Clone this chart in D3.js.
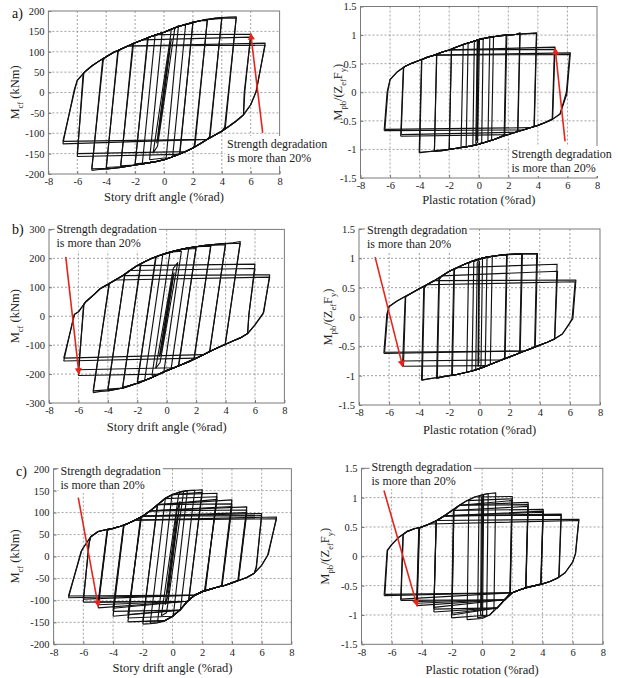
<!DOCTYPE html>
<html><head><meta charset="utf-8">
<script src="https://cdn.jsdelivr.net/npm/d3@7"></script>
<style>body{margin:0;background:#fff} svg{display:block} svg text{font-family:"Liberation Serif","Times New Roman",serif;}</style>
</head><body>
<svg id="c" width="618" height="678"></svg>
<script>
// ---------- tick values ----------
const xTicks = [-8,-6,-4,-2,0,2,4,6,8];
const yTicksKNm200 = [-200,-150,-100,-50,0,50,100,150,200];
const yTicksKNm300 = [-300,-200,-100,0,100,200,300];
const yTicksNorm = [-1.5,-1,-0.5,0,0.5,1,1.5];
const annotationLines = ["Strength degradation","is more than 20%"];

// ---------- skeleton curves (upper = reloading toward +, lower = unloading toward -) ----------
const U_aL = [[-6,30],[-5.5,50],[-5,65],[-4.5,77],[-4,88],[-3.5,98],[-3,106],[-2.5,114],[-2,122],[-1.5,129],[-1,136],[-0.5,142],[0,148],[0.5,155],[1,162],[1.5,167],[2,172],[2.5,176],[3,179],[3.5,182],[4,184],[4.5,185],[5,186]];
const L_aL = [[-5,-190],[-4.5,-189],[-4,-188],[-3.5,-186],[-3,-184],[-2.5,-181],[-2,-178],[-1.5,-175],[-1,-172],[-0.5,-169],[0,-165],[0.5,-159],[1,-152],[1.5,-145],[2,-136],[2.5,-126],[3,-115],[3.5,-105],[4,-95],[4.5,-83],[5,-70],[5.5,-55],[6,-30]];
const U_aR = [[-6,0.22],[-5.5,0.36],[-5,0.45],[-4.5,0.51],[-4,0.56],[-3.5,0.61],[-3,0.65],[-2.5,0.7],[-2,0.74],[-1.5,0.79],[-1,0.84],[-0.5,0.88],[0,0.92],[0.5,0.95],[1,0.97],[1.5,0.99],[2,1.0],[2.5,1.01],[3,1.02],[3.5,1.03],[4,1.03]];
const L_aR = [[-4.5,-1.06],[-4,-1.05],[-3.5,-1.04],[-3,-1.03],[-2.5,-1.02],[-2,-1.0],[-1.5,-0.98],[-1,-0.96],[-0.5,-0.94],[0,-0.91],[0.5,-0.87],[1,-0.83],[1.5,-0.78],[2,-0.74],[2.5,-0.7],[3,-0.66],[3.5,-0.62],[4,-0.58],[4.5,-0.53],[5,-0.47],[5.5,-0.38],[6,-0.1]];
const U_bL = [[-6,15],[-5.5,50],[-5,72],[-4.5,96],[-4,110],[-3.5,125],[-3,140],[-2.5,158],[-2,175],[-1.5,188],[-1,200],[-0.5,210],[0,218],[0.5,225],[1,231],[1.5,236],[2,240],[2.5,244],[3,247],[3.5,249],[4,251],[4.5,254],[5,257]];
const L_bL = [[-5,-262],[-4.5,-260],[-4,-258],[-3.5,-253],[-3,-248],[-2.5,-240],[-2,-232],[-1.5,-222],[-1,-212],[-0.5,-200],[0,-188],[0.5,-178],[1,-168],[1.5,-157],[2,-145],[2.5,-133],[3,-120],[3.5,-108],[4,-97],[4.5,-86],[5,-75],[5.5,-60],[6,-30]];
const U_bR = [[-6,0.18],[-5.5,0.27],[-5,0.34],[-4.5,0.41],[-4,0.48],[-3.5,0.55],[-3,0.62],[-2.5,0.7],[-2,0.78],[-1.5,0.84],[-1,0.9],[-0.5,0.95],[0,0.99],[0.5,1.02],[1,1.04],[1.5,1.06],[2,1.07],[2.5,1.075],[3,1.08],[3.5,1.08],[4,1.08]];
const L_bR = [[-4,-1.07],[-3.5,-1.06],[-3,-1.04],[-2.5,-1.02],[-2,-1.0],[-1.5,-0.98],[-1,-0.95],[-0.5,-0.92],[0,-0.88],[0.5,-0.83],[1,-0.78],[1.5,-0.73],[2,-0.68],[2.5,-0.63],[3,-0.58],[3.5,-0.53],[4,-0.48],[4.5,-0.43],[5,-0.37],[5.5,-0.29],[6,-0.1]];
const U_cL = [[-6,20],[-5.5,45],[-5,57],[-4.5,61],[-4,64],[-3.5,69],[-3,75],[-2.5,83],[-2,92],[-1.5,104],[-1,118],[-0.5,132],[0,141],[0.5,147],[1,150],[1.5,151],[2,152]];
const L_cL = [[-2,-154],[-1.5,-153],[-1,-151],[-0.5,-146],[0,-136],[0.5,-122],[1,-102],[1.5,-88],[2,-80],[2.5,-75],[3,-70],[3.5,-66],[4,-60],[4.5,-54],[5,-48],[5.5,-38],[6,-20]];
const U_cR = [[-6,0.2],[-5.5,0.33],[-5,0.42],[-4.5,0.47],[-4,0.5],[-3.5,0.55],[-3,0.61],[-2.5,0.69],[-2,0.78],[-1.5,0.87],[-1,0.95],[-0.5,1.01],[0,1.05],[0.5,1.07],[1,1.08]];
const L_cR = [[-1.5,-1.08],[-1,-1.08],[-0.5,-1.08],[0,-1.06],[0.5,-1.0],[1,-0.88],[1.5,-0.74],[2,-0.62],[2.5,-0.57],[3,-0.53],[3.5,-0.5],[4,-0.47],[4.5,-0.43],[5,-0.37],[5.5,-0.28],[6,-0.1]];

// ---------- cycles: [negX, negY, upKneeX, upKneeY, posX, posY, downKneeX, downKneeY] ----------
const cyc_aL = [
 [-0.375,-95,0.25,75,0.375,100,-0.25,-72],[-0.5,-125,0.35,102,0.5,130,-0.35,-100],[-0.75,-148,0.45,138,0.75,158,-0.45,-132],
 [-1,-165,-0.13,147,1,164,0.15,-160],[-1.5,-175,-0.62,140,1.5,168,0.6,-157],
 [-2,-178,-1.13,134,2,173,1.1,-151],[-2,-175,-1.1,133,2,170,1.08,-150],
 [-3,-183,-2.16,120,3,180,2.14,-132],[-3,-180,-2.12,118,3,177,2.1,-130],
 [-4,-188,-3.2,101,4,184,3.18,-110],[-4,-184,-3.17,100,4,182,3.15,-108],
 [-5,-191,-4.24,82,5,186,4.24,-88],[-5,-187,-4.2,80,5,183,4.2,-85],
 [-6,-157,-5.6,45,6,143,5.6,5],[-6,-150,-5.55,48,6,136,5.55,0],
 [-7,-126,-6.2,8,7,121,6.4,4],[-7,-120,-6.15,10,7,116,6.35,0]
];
const cyc_aR = [
 [-0.15,-0.85,-0.08,0.86,-0.02,0.91,-0.1,-0.82],[-0.2,-0.9,-0.1,0.88,0.05,0.93,-0.08,-0.88],
 [-0.4,-0.93,-0.3,0.88,0.3,0.95,0.2,-0.88],[-0.85,-0.95,-0.72,0.86,0.75,0.97,0.62,-0.86],
 [-1.2,-0.97,-1.05,0.83,1.0,0.98,0.87,-0.83],
 [-2.0,-1.0,-1.85,0.76,1.9,1.01,1.76,-0.75],[-2.0,-0.99,-1.84,0.75,1.85,1.0,1.72,-0.74],
 [-3.0,-1.03,-2.85,0.67,2.8,1.04,2.65,-0.68],[-3.0,-1.02,-2.84,0.66,2.78,1.03,2.63,-0.67],
 [-4.03,-1.06,-3.87,0.57,3.92,1.04,3.76,-0.6],[-4.0,-1.05,-3.85,0.57,3.9,1.03,3.74,-0.59],
 [-5.28,-0.77,-5.1,0.43,5.16,0.79,5.0,-0.47],[-5.25,-0.74,-5.08,0.42,5.12,0.75,4.97,-0.47],
 [-6.4,-0.67,-6.2,0.0,6.2,0.69,5.96,-0.03],[-6.35,-0.65,-6.15,0.02,6.15,0.66,5.93,0.0]
];
const cyc_bL = [
 [-0.375,-110,0.25,95,0.375,115,-0.25,-90],[-0.5,-140,0.35,125,0.5,150,-0.35,-120],[-0.75,-180,0.45,165,0.75,185,-0.45,-160],
 [-1,-205,0.22,221,1,225,-0.2,-195],[-1.5,-222,-0.26,214,1.5,236,0.3,-182],
 [-2,-234,-0.75,205,2,240,0.82,-172],[-2,-228,-0.72,203,2,234,0.8,-170],
 [-3,-250,-1.77,181,3,247,1.87,-148],[-3,-245,-1.75,180,3,242,1.85,-147],
 [-4,-258,-2.85,145,4,252,2.93,-122],[-4,-252,-2.85,143,4,247,2.92,-120],
 [-5,-264,-3.92,113,5,258,3.98,-98],[-5,-258,-3.9,112,5,252,3.97,-97],
 [-6,-205,-5.65,40,6,180,5.6,10],[-6,-185,-5.62,42,6,165,5.58,5],
 [-7,-155,-6.3,5,7,143,6.6,14],[-7,-145,-6.25,8,7,135,6.55,8]
];
const cyc_bR = [
 [-0.1,-0.85,-0.05,0.9,0.0,0.95,-0.06,-0.8],[-0.25,-0.9,-0.15,0.92,0.2,1.0,0.1,-0.84],
 [-0.5,-0.92,-0.38,0.94,0.5,1.02,0.38,-0.84],[-0.85,-0.94,-0.72,0.91,0.85,1.04,0.72,-0.8],
 [-1.85,-1.0,-1.7,0.82,1.84,1.07,1.7,-0.7],[-1.8,-0.99,-1.66,0.81,1.8,1.06,1.66,-0.7],
 [-2.85,-1.05,-2.7,0.65,2.85,1.08,2.7,-0.61],[-2.8,-1.04,-2.66,0.64,2.8,1.07,2.66,-0.6],
 [-3.85,-1.08,-3.7,0.5,3.85,1.08,3.7,-0.51],[-3.8,-1.07,-3.66,0.49,3.8,1.08,3.66,-0.5],
 [-5.05,-0.84,-4.9,0.35,5.15,0.9,4.98,-0.38],[-5.1,-0.75,-4.93,0.34,5.18,0.78,5.0,-0.37],
 [-6.35,-0.62,-6.15,0.05,6.4,0.63,6.2,-0.03],[-6.3,-0.6,-6.1,0.06,6.35,0.6,6.15,-0.02]
];
const cyc_cL = [
 [-0.375,-85,0.25,75,0.375,95,-0.25,-65],[-0.5,-110,0.3,105,0.5,125,-0.3,-90],[-0.75,-135,0.4,138,0.75,148,-0.4,-128],
 [-1,-148,-0.04,140,1,150,0.05,-136],[-1.5,-152,-0.48,133,1.5,151,0.53,-121],
 [-2,-154,-1.03,117,2,152,1.1,-100],[-2,-148,-1.0,118,2,146,1.08,-100],
 [-3,-149,-2.15,89,3,144,2.21,-79],[-3,-140,-2.12,88,3,136,2.18,-78],[-3,-132,-2.1,88,3,130,2.16,-77],
 [-4,-136,-3.26,72,4,129,3.3,-67],[-4,-125,-3.28,70,4,120,3.32,-66],[-4,-118,-3.3,70,4,114,3.34,-66],
 [-5,-117,-4.36,62,5,113,4.4,-55],[-5,-110,-4.38,60,5,106,4.42,-54],[-5,-104,-4.4,60,5,100,4.44,-54],
 [-6,-104,-5.62,30,6,98,5.65,-25],[-6,-97,-5.6,32,6,93,5.63,-24],
 [-7,-94,-6.15,12,7,90,6.45,5],[-7,-90,-6.1,14,7,86,6.4,3]
];
const cyc_cR = [
 [-0.05,-0.9,0.0,0.95,0.05,1.0,-0.02,-0.9],[-0.1,-1.0,-0.05,1.0,0.1,1.05,0.03,-1.0],
 [-0.3,-1.05,-0.2,1.02,0.4,1.07,0.3,-1.02],[-1.0,-1.08,-0.88,0.96,0.9,1.08,0.78,-0.92],
 [-2.03,-1.05,-1.9,0.8,2.0,1.02,1.87,-0.64],[-2.0,-1.0,-1.88,0.79,1.98,0.98,1.85,-0.63],[-2.0,-0.97,-1.87,0.79,1.97,0.95,1.84,-0.63],
 [-3.2,-0.95,-3.05,0.6,3.05,0.92,2.9,-0.54],[-3.2,-0.9,-3.05,0.6,3.05,0.88,2.9,-0.54],[-3.2,-0.87,-3.04,0.6,3.03,0.85,2.88,-0.54],
 [-4.35,-0.84,-4.2,0.48,4.05,0.8,3.9,-0.48],[-4.33,-0.8,-4.18,0.48,4.05,0.77,3.9,-0.48],[-4.3,-0.77,-4.15,0.48,4.03,0.75,3.88,-0.47],
 [-5.4,-0.75,-5.25,0.37,5.25,0.72,5.1,-0.35],[-5.38,-0.73,-5.23,0.37,5.23,0.7,5.08,-0.35],
 [-6.5,-0.67,-6.3,0.1,6.42,0.63,6.2,0.05],[-6.45,-0.65,-6.27,0.1,6.4,0.61,6.18,0.04]
];

// ---------- red arrows: [tail, tip] in data units ----------
const arrow_aL = [[6.83,-99],[6.0,145]];
const arrow_aR = [[5.84,-0.86],[5.17,0.77]];
const arrow_bL = [[-6.86,205],[-5.96,-201]];
const arrow_bR = [[-6.93,1.02],[-5.09,-0.85]];
const arrow_cL = [[-6.34,134],[-4.99,-114]];
const arrow_cR = [[-6.51,1.12],[-4.3,-0.85]];

// ---------- layout ----------
const panels = [
 {letter:'a)', lx:12, ly:18, x0:48.4, x1:279.6, y0:11, y1:174, ydom:[-200,200], yt:yTicksKNm200, U:U_aL, L:L_aL, cyc:cyc_aL, yl:'cf', ylx:15, xl:'Story drift angle (%rad)', xlDy:27, arrow:arrow_aL, note:[227,148]},
 {x0:360.5, x1:597, y0:6.5, y1:178, ydom:[-1.5,1.5], yt:yTicksNorm, U:U_aR, L:L_aR, cyc:cyc_aR, yl:'pb', ylx:338, xl:'Plastic rotation (%rad)', xlDy:26, arrow:arrow_aR, note:[511.5,158]},
 {letter:'b)', lx:12, ly:234, x0:49, x1:284.4, y0:229.4, y1:403, ydom:[-300,300], yt:yTicksKNm300, U:U_bL, L:L_bL, cyc:cyc_bL, yl:'cf', ylx:15, xl:'Story drift angle (%rad)', xlDy:27.5, arrow:arrow_bL, note:[56.5,233]},
 {x0:359, x1:600, y0:229, y1:405, ydom:[-1.5,1.5], yt:yTicksNorm, U:U_bR, L:L_bR, cyc:cyc_bR, yl:'pb', ylx:328, xl:'Plastic rotation (%rad)', xlDy:29, arrow:arrow_bR, note:[367,234]},
 {letter:'c)', lx:16, ly:476, x0:53.6, x1:291.4, y0:468.7, y1:644.3, ydom:[-200,200], yt:yTicksKNm200, U:U_cL, L:L_cL, cyc:cyc_cL, yl:'cf', ylx:15, xl:'Story drift angle (%rad)', xlDy:27.5, arrow:arrow_cL, note:[60.5,475]},
 {x0:361.5, x1:602.8, y0:468.3, y1:644.3, ydom:[-1.5,1.5], yt:yTicksNorm, U:U_cR, L:L_cR, cyc:cyc_cR, yl:'pb', ylx:325, xl:'Plastic rotation (%rad)', xlDy:29.5, arrow:arrow_cR, note:[371.5,471]}
];

const FONT = '"Liberation Serif","Times New Roman",serif';
const svg = d3.select('#c');
const defs = svg.append('defs');
defs.append('marker').attr('id','ah').attr('viewBox','0 0 10 10').attr('refX',9).attr('refY',5)
  .attr('markerWidth',8).attr('markerHeight',7).attr('markerUnits','userSpaceOnUse').attr('orient','auto')
  .append('path').attr('d','M0,0L10,5L0,10z').attr('fill','#e3261d');

function loopPoints(c, U, L){
  const [nx,ny,ukx,uky,px,py,dkx,dky] = c;
  const pts = [[nx,ny],[ukx,uky]];
  for (const p of U) if (p[0]>ukx+0.04 && p[0]<px-0.04 && p[1]>uky && p[1]<py) pts.push(p);
  pts.push([px,py],[dkx,dky]);
  for (let i=L.length-1;i>=0;i--){ const p=L[i]; if (p[0]<dkx-0.04 && p[0]>nx+0.04 && p[1]<dky && p[1]>ny) pts.push(p); }
  pts.push([nx,ny]);
  return pts;
}

panels.forEach(P => {
  const x = d3.scaleLinear().domain([-8,8]).range([P.x0,P.x1]);
  const y = d3.scaleLinear().domain(P.ydom).range([P.y1,P.y0]);
  const g = svg.append('g');

  g.append('g').selectAll('line').data(xTicks.slice(1,-1)).join('line')
    .attr('x1',d=>x(d)).attr('x2',d=>x(d)).attr('y1',P.y0).attr('y2',P.y1)
    .attr('stroke','#8a8a8a').attr('stroke-width',0.8).attr('stroke-dasharray','2,2');
  g.append('g').selectAll('line').data(P.yt.slice(1,-1)).join('line')
    .attr('y1',d=>y(d)).attr('y2',d=>y(d)).attr('x1',P.x0).attr('x2',P.x1)
    .attr('stroke','#8a8a8a').attr('stroke-width',0.8).attr('stroke-dasharray','2,2');

  const line = d3.line().x(d=>x(d[0])).y(d=>y(d[1]));
  g.append('g').selectAll('path').data(P.cyc).join('path')
    .attr('d', c => line(loopPoints(c,P.U,P.L)))
    .attr('fill','none').attr('stroke','#111').attr('stroke-width',1.15).attr('stroke-linejoin','round');

  g.append('rect').attr('x',P.x0).attr('y',P.y0).attr('width',P.x1-P.x0).attr('height',P.y1-P.y0)
    .attr('fill','none').attr('stroke','#7a7a7a').attr('stroke-width',1);

  const ax = g.append('g').attr('transform',`translate(0,${P.y1})`)
    .call(d3.axisBottom(x).tickValues(xTicks).tickSize(-3).tickPadding(4).tickFormat(d=>String(d)));
  const ay = g.append('g').attr('transform',`translate(${P.x0},0)`)
    .call(d3.axisLeft(y).tickValues(P.yt).tickSize(-3).tickPadding(4).tickFormat(d=>String(d)));
  [ax,ay].forEach(a=>{
    a.attr('font-family',null).attr('font-size',null);
    a.select('.domain').remove();
    a.selectAll('line').attr('stroke','#7a7a7a');
    a.selectAll('text').style('font-family',FONT).style('font-size','10.5px').attr('fill','#222');
  });

  g.append('text').attr('x',(P.x0+P.x1)/2).attr('y',P.y1+P.xlDy).attr('text-anchor','middle')
    .style('font-family',FONT).style('font-size','12.5px').attr('fill','#222').text(P.xl);

  const yt = g.append('text').attr('transform',`translate(${P.ylx},${(P.y0+P.y1)/2}) rotate(-90)`)
    .attr('text-anchor','middle').attr('dominant-baseline','central')
    .style('font-family',FONT).style('font-size','12.5px').attr('fill','#222');
  const sub = (t)=> yt.append('tspan').style('font-size','8.5px').attr('baseline-shift','sub').text(t);
  const nor = (t)=> yt.append('tspan').attr('baseline-shift','0').text(t);
  if (P.yl==='cf'){ nor('M'); sub('cf'); nor(' (kNm)'); }
  else { nor('M'); sub('pb'); nor('/(Z'); sub('ef'); nor('F'); sub('y'); nor(')'); }

  if (P.letter) g.append('text').attr('x',P.lx).attr('y',P.ly).style('font-family',FONT)
    .style('font-size','14px').attr('fill','#111').text(P.letter);

  const ng = g.append('g');
  const bg = ng.append('rect').attr('fill','#fff');
  const nt = ng.append('text').style('font-family',FONT).style('font-size','12px').attr('fill','#222');
  annotationLines.forEach((s,i)=> nt.append('tspan').attr('x',P.note[0]).attr('y',P.note[1]+i*14).text(s));
  const bb = nt.node().getBBox();
  bg.attr('x',bb.x-2).attr('y',bb.y-1).attr('width',bb.width+4).attr('height',bb.height+2);

  g.append('line').attr('x1',x(P.arrow[0][0])).attr('y1',y(P.arrow[0][1]))
    .attr('x2',x(P.arrow[1][0])).attr('y2',y(P.arrow[1][1]))
    .attr('stroke','#e3261d').attr('stroke-width',1.6).attr('marker-end','url(#ah)');
});
</script>
</body></html>
